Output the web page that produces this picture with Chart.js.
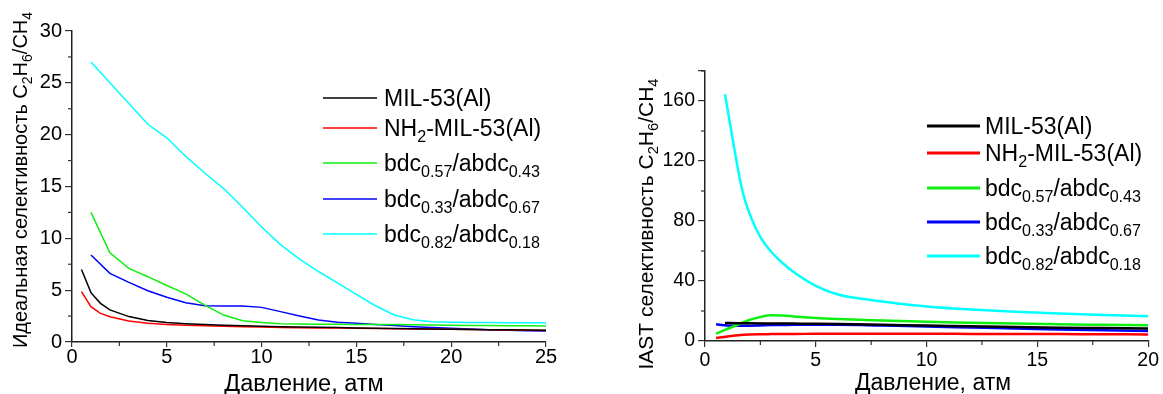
<!DOCTYPE html>
<html>
<head>
<meta charset="utf-8">
<script src="https://cdn.jsdelivr.net/npm/chart.js@4.4.1/dist/chart.umd.min.js"></script>
<style>
  body { margin: 0; background: #fff; }
  #wrap { position: relative; width: 1163px; height: 394px; }
  #left { position: absolute; left: 0; top: 0; }
  #right { position: absolute; left: 580px; top: 0; }
</style>
</head>
<body>
<div id="wrap">
  <canvas id="left" width="580" height="394"></canvas>
  <canvas id="right" width="583" height="394"></canvas>
</div>
<script>
const FONT = 'Arial, "Liberation Sans", sans-serif';

// series names (text, isSubscript)
const seriesNames = [
  [['MIL-53(Al)', 0]],
  [['NH', 0], ['2', 1], ['-MIL-53(Al)', 0]],
  [['bdc', 0], ['0.57', 1], ['/abdc', 0], ['0.43', 1]],
  [['bdc', 0], ['0.33', 1], ['/abdc', 0], ['0.67', 1]],
  [['bdc', 0], ['0.82', 1], ['/abdc', 0], ['0.18', 1]]
];
const seriesColors = ['#000000', '#ff0000', '#11ee11', '#0000ff', '#00ffff'];

// left chart: ideal selectivity vs pressure
const idealXa = [0.5, 1, 1.5, 2, 3, 4, 5, 6, 7, 8, 9, 10, 11, 12, 13, 14, 15, 16, 17, 18, 19, 20, 21, 22, 23, 24, 25];
const idealXb = [1, 2, 3, 4, 5, 6, 7, 8, 9, 10, 11, 12, 13, 14, 15, 16, 17, 18, 19, 20, 21, 22, 23, 24, 25];
const idealMil = [7.0, 4.76, 3.73, 3.1, 2.45, 2.07, 1.88, 1.76, 1.68, 1.61, 1.56, 1.52, 1.48, 1.45, 1.42, 1.39, 1.36, 1.33, 1.3, 1.28, 1.25, 1.23, 1.21, 1.19, 1.17, 1.15, 1.13];
const idealNh2 = [4.85, 3.41, 2.76, 2.44, 2.03, 1.8, 1.7, 1.62, 1.56, 1.51, 1.47, 1.44, 1.41, 1.38, 1.36, 1.34, 1.32, 1.3, 1.28, 1.26, 1.24, 1.22, 1.2, 1.18, 1.16, 1.14, 1.12];
const idealB57 = [12.5, 8.6, 7.1, 6.3, 5.45, 4.65, 3.55, 2.6, 2.05, 1.87, 1.76, 1.73, 1.72, 1.71, 1.7, 1.69, 1.68, 1.66, 1.64, 1.62, 1.6, 1.58, 1.57, 1.56, 1.55];
const idealB33 = [8.39, 6.62, 5.75, 4.95, 4.31, 3.79, 3.5, 3.47, 3.47, 3.34, 2.93, 2.5, 2.12, 1.9, 1.8, 1.7, 1.6, 1.48, 1.4, 1.32, 1.25, 1.19, 1.14, 1.09, 1.05];
const idealB82 = [27.0, 25.0, 23.0, 21.0, 19.7, 17.9, 16.3, 14.8, 13.0, 11.1, 9.4, 8.0, 6.8, 5.7, 4.6, 3.5, 2.6, 2.15, 1.95, 1.9, 1.88, 1.87, 1.86, 1.86, 1.86];

// right chart: IAST selectivity vs pressure
const iastXmil = [0.9, 1.5, 2, 3, 4, 5, 6, 8, 10, 12, 14, 16, 18, 20];
const iastX = [0.5, 1, 1.5, 2, 2.5, 3, 3.5, 4, 5, 6, 7, 8, 10, 12, 14, 16, 18, 20];
const iastXcyan = [0.9, 1.7, 2.1, 2.5, 3, 3.5, 4, 5, 6, 7, 8, 9, 10, 12, 14, 16, 18, 20];
const iastMil = [12.0, 11.9, 11.8, 11.7, 11.6, 11.5, 11.3, 10.8, 10.3, 9.8, 9.3, 8.9, 8.6, 8.3];
const iastNh2 = [2.0, 3.0, 3.8, 4.3, 4.5, 4.6, 4.7, 4.7, 4.8, 4.8, 4.8, 4.8, 4.8, 4.75, 4.7, 4.6, 4.5, 4.4];
const iastB57 = [4.9, 8.0, 11.0, 14.0, 16.0, 17.1, 17.0, 16.4, 15.3, 14.6, 14.1, 13.7, 12.8, 12.2, 11.6, 11.1, 10.8, 10.5];
const iastB33 = [11.1, 10.4, 10.1, 10.2, 10.4, 10.6, 10.7, 10.8, 10.9, 10.8, 10.6, 10.3, 9.7, 9.0, 8.3, 7.7, 7.1, 6.6];
const iastB82 = [164.5, 99.3, 81.6, 69.3, 59.3, 52.0, 46.0, 36.8, 31.0, 28.3, 26.3, 24.5, 23.0, 21.0, 19.5, 18.3, 17.3, 16.5];

const xTitle = [['Давление, атм', 0]];
const idealTitle = [['Идеальная селективность C', 0], ['2', 1], ['H', 0], ['6', 1], ['/CH', 0], ['4', 1]];
const iastTitle = [['IAST селективность C', 0], ['2', 1], ['H', 0], ['6', 1], ['/CH', 0], ['4', 1]];

function pts(xs, ys) {
  return xs.map((x, i) => ({ x: x, y: ys[i] }));
}

function drawRich(ctx, parts, x, y, size, align) {
  const fontOf = sub => (sub ? size * 0.7 : size) + 'px ' + FONT;
  let w = 0;
  parts.forEach(([t, sub]) => { ctx.font = fontOf(sub); w += ctx.measureText(t).width; });
  let cx = align === 'center' ? x - w / 2 : x;
  ctx.textAlign = 'left';
  ctx.textBaseline = 'alphabetic';
  parts.forEach(([t, sub]) => {
    ctx.font = fontOf(sub);
    ctx.fillText(t, cx, sub ? y + size * 0.25 : y);
    cx += ctx.measureText(t).width;
  });
}

// minor ticks, axis titles with subscripts and the legend
const decor = {
  id: 'decor',
  afterDraw(chart, args, o) {
    const ctx = chart.ctx;
    const area = chart.chartArea;
    ctx.save();
    ctx.strokeStyle = '#333';
    ctx.lineWidth = 1.2;
    Object.keys(o.minor).forEach(id => {
      const s = chart.scales[id];
      const [minor, major] = o.minor[id];
      for (let v = s.min; v <= s.max + 1e-9; v += minor) {
        const r = v / major;
        if (Math.abs(r - Math.round(r)) < 1e-6) continue;
        const p = s.getPixelForValue(v);
        ctx.beginPath();
        if (id === 'x') { ctx.moveTo(p, area.bottom); ctx.lineTo(p, area.bottom + 4); }
        else { ctx.moveTo(area.left - 4, p); ctx.lineTo(area.left, p); }
        ctx.stroke();
      }
    });
    ctx.fillStyle = '#000';
    drawRich(ctx, xTitle, o.xTitle[0], o.xTitle[1] + o.xTitleSize * 0.36, o.xTitleSize, 'center');
    ctx.save();
    ctx.translate(o.yTitle[0] + o.yTitleSize * 0.36, o.yTitle[1]);
    ctx.rotate(-Math.PI / 2);
    drawRich(ctx, o.yTitleText, 0, 0, o.yTitleSize, 'center');
    ctx.restore();
    const lg = o.legend;
    lg.rows.forEach((ry, i) => {
      ctx.strokeStyle = seriesColors[i];
      ctx.lineWidth = lg.lineWidth;
      ctx.beginPath();
      ctx.moveTo(lg.x0, ry);
      ctx.lineTo(lg.x1, ry);
      ctx.stroke();
      ctx.fillStyle = '#000';
      drawRich(ctx, seriesNames[i], lg.tx, ry + lg.size * 0.36, lg.size, 'left');
    });
    ctx.restore();
  }
};

function axis(min, max, step, tickLen, pad, fit, isX, fontSize, labelFn) {
  return {
    type: 'linear',
    min: min,
    max: max,
    afterFit: s => { if (isX) s.height = fit; else s.width = fit; },
    ticks: {
      stepSize: step,
      color: '#000',
      padding: pad,
      maxRotation: 0,
      autoSkip: false,
      font: { family: FONT, size: fontSize, lineHeight: 1 },
      callback: labelFn || (v => v)
    },
    grid: { display: true, drawOnChartArea: false, drawTicks: true, tickLength: tickLen, color: '#333', lineWidth: 1.2 },
    border: { display: true, color: '#222', width: 1.5 }
  };
}

function makeSets(list, width, smooth) {
  return list.map((d, i) => ({
    label: seriesNames[i].map(p => p[0]).join(''),
    data: pts(d[0], d[1]),
    borderColor: seriesColors[i],
    borderWidth: width,
    pointRadius: 0,
    fill: false,
    tension: 0,
    cubicInterpolationMode: smooth ? 'monotone' : 'default'
  }));
}

new Chart(document.getElementById('left'), {
  type: 'line',
  data: {
    datasets: makeSets([
      [idealXa, idealMil], [idealXa, idealNh2], [idealXb, idealB57], [idealXb, idealB33], [idealXb, idealB82]
    ], 1.5, false)
  },
  options: {
    responsive: false,
    animation: false,
    devicePixelRatio: 1,
    layout: { padding: { top: 31, right: 34, left: 0, bottom: 0 } },
    scales: {
      x: axis(0, 25, 5, 5, 0, 52, true, 20),
      y: axis(0, 30, 5, 7, 3, 72, false, 20)
    },
    plugins: {
      legend: { display: false },
      tooltip: { enabled: false },
      decor: {
        minor: { x: [2.5, 5], y: [2.5, 5] },
        xTitleSize: 23.5,
        yTitleSize: 20,
        xTitle: [304, 383],
        yTitle: [20, 180],
        yTitleText: idealTitle,
        legend: { x0: 323, x1: 377, tx: 384, size: 23, lineWidth: 1.5, rows: [98, 128, 163, 199, 234] }
      }
    }
  },
  plugins: [decor]
});

new Chart(document.getElementById('right'), {
  type: 'line',
  data: {
    datasets: makeSets([
      [iastXmil, iastMil], [iastX, iastNh2], [iastX, iastB57], [iastX, iastB33], [iastXcyan, iastB82]
    ], 2.5, true)
  },
  options: {
    responsive: false,
    animation: false,
    devicePixelRatio: 1,
    layout: { padding: { top: 71, right: 11, left: 0, bottom: 0 } },
    scales: {
      x: axis(0, 20, 5, 6, 4, 53, true, 19.5),
      y: axis(0, 180, 40, 7, 3, 125, false, 19.5, v => (v === 180 ? '' : v))
    },
    plugins: {
      legend: { display: false },
      tooltip: { enabled: false },
      decor: {
        minor: { x: [2.5, 5], y: [20, 40] },
        xTitleSize: 23,
        yTitleSize: 21,
        xTitle: [353, 382],
        yTitle: [65, 224],
        yTitleText: iastTitle,
        legend: { x0: 347, x1: 400, tx: 405, size: 23, lineWidth: 3, rows: [126, 153, 188, 222, 256] }
      }
    }
  },
  plugins: [decor]
});
</script>
</body>
</html>
